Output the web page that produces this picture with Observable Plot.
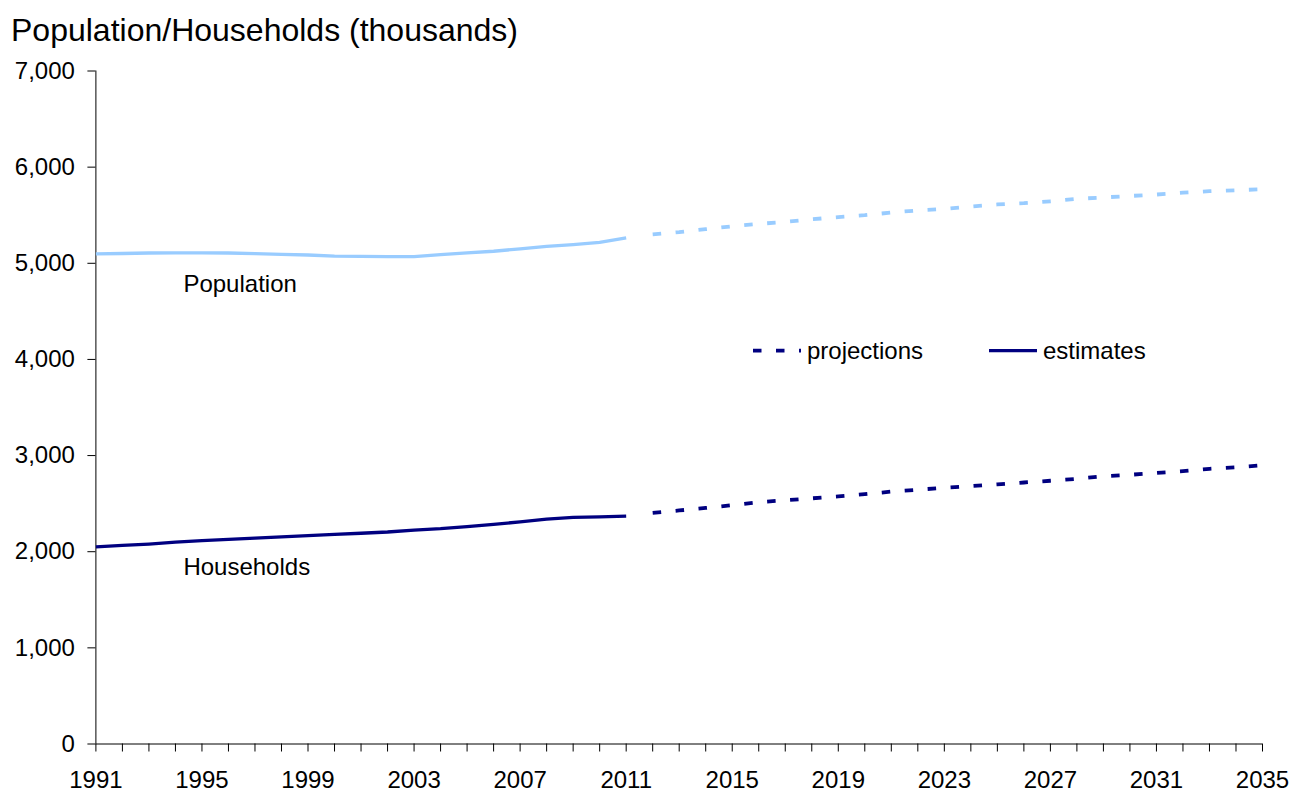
<!DOCTYPE html>
<html>
<head>
<meta charset="utf-8">
<script src="https://cdn.jsdelivr.net/npm/d3@7"></script>
<script src="https://cdn.jsdelivr.net/npm/@observablehq/plot@0.6"></script>
<style>
  body { margin: 0; background: #fff; }
  #chart { position: relative; width: 1293px; height: 792px; font-family: "Liberation Sans", Arial, sans-serif; color: #000; }
  #title { position: absolute; left: 11px; top: 14px; font-size: 32px; line-height: 1; white-space: nowrap; }
  #legend { position: absolute; left: 0; top: 0; pointer-events: none; }
  #legend text { font-family: "Liberation Sans", Arial, sans-serif; font-size: 24px; fill: #000; }
</style>
</head>
<body>
<div id="chart">
  <div id="title">Population/Households (thousands)</div>
</div>
<script>
// Mid-year estimates, 1991–2011 (thousands)
const estimateYears = [1991, 1992, 1993, 1994, 1995, 1996, 1997, 1998, 1999, 2000,
  2001, 2002, 2003, 2004, 2005, 2006, 2007, 2008, 2009, 2010, 2011];
const populationEstimates = [5098, 5102, 5107, 5108, 5108, 5107, 5100, 5092, 5086, 5075,
  5072, 5070, 5070, 5090, 5108, 5125, 5150, 5175, 5195, 5218, 5265];
const householdEstimates = [2050, 2065, 2080, 2100, 2115, 2128, 2142, 2155, 2168, 2180,
  2192, 2205, 2225, 2240, 2262, 2285, 2310, 2340, 2358, 2362, 2370];

// Projections, 2012–2035 (thousands)
const projectionYears = [2012, 2013, 2014, 2015, 2016, 2017, 2018, 2019, 2020, 2021, 2022, 2023,
  2024, 2025, 2026, 2027, 2028, 2029, 2030, 2031, 2032, 2033, 2034, 2035];
const populationProjections = [5300, 5324, 5355, 5385, 5410, 5430, 5458, 5480, 5500, 5528, 5550, 5565,
  5590, 5612, 5625, 5645, 5670, 5685, 5700, 5715, 5735, 5750, 5760, 5770];
const householdProjections = [2405, 2429, 2455, 2485, 2515, 2535, 2555, 2575, 2598, 2625, 2645, 2665,
  2682, 2700, 2720, 2738, 2758, 2785, 2800, 2820, 2838, 2862, 2878, 2900];

// Axis ticks
const yearTicks = [1991, 1992, 1993, 1994, 1995, 1996, 1997, 1998, 1999, 2000, 2001, 2002, 2003,
  2004, 2005, 2006, 2007, 2008, 2009, 2010, 2011, 2012, 2013, 2014, 2015, 2016, 2017, 2018, 2019,
  2020, 2021, 2022, 2023, 2024, 2025, 2026, 2027, 2028, 2029, 2030, 2031, 2032, 2033, 2034, 2035];
const yearLabels = [1991, 1995, 1999, 2003, 2007, 2011, 2015, 2019, 2023, 2027, 2031, 2035];
const valueTicks = [0, 1000, 2000, 3000, 4000, 5000, 6000, 7000];

// Series labels written beside the lines
const seriesLabels = ["Population", "Households"];
const seriesLabelYears = [1994.3, 1994.3];
const seriesLabelValues = [4700, 1755];

const POP_COLOR = "#99ccff";
const HH_COLOR = "#000080";
const DASH = "8.5,14.5";

const rows = (years, values) => years.map((year, i) => ({year, value: values[i]}));

const plot = Plot.plot({
  width: 1293,
  height: 792,
  marginLeft: 95.4,
  marginRight: 31,
  marginTop: 70.5,
  marginBottom: 48.5,
  style: {
    fontFamily: '"Liberation Sans", Arial, sans-serif',
    fontSize: "24px",
    color: "#000",
    background: "transparent",
    overflow: "visible"
  },
  x: {domain: [1991, 2035], label: null},
  y: {domain: [0, 7000], label: null},
  marks: [
    Plot.axisY({
      ticks: valueTicks,
      tickFormat: d3.format(","),
      tickSize: 8,
      tickPadding: 13,
      label: null,
      stroke: "#000",
      fill: "#000"
    }),
    Plot.axisX({
      ticks: yearTicks,
      tickFormat: d => yearLabels.includes(d) ? String(d) : "",
      tickSize: 8,
      tickPadding: 18.5,
      label: null,
      stroke: "#000",
      fill: "#000"
    }),
    Plot.ruleY([0], {stroke: "#000", strokeWidth: 1}),
    Plot.ruleX([1991], {stroke: "#000", strokeWidth: 1}),

    Plot.line(rows(estimateYears, populationEstimates), {
      x: "year", y: "value", stroke: POP_COLOR, strokeWidth: 3.3, strokeLinecap: "butt"
    }),
    Plot.line(rows(projectionYears, populationProjections), {
      x: "year", y: "value", stroke: POP_COLOR, strokeWidth: 3.8,
      strokeDasharray: DASH, strokeLinecap: "butt"
    }),
    Plot.line(rows(estimateYears, householdEstimates), {
      x: "year", y: "value", stroke: HH_COLOR, strokeWidth: 3.3, strokeLinecap: "butt"
    }),
    Plot.line(rows(projectionYears, householdProjections), {
      x: "year", y: "value", stroke: HH_COLOR, strokeWidth: 3.8,
      strokeDasharray: DASH, strokeLinecap: "butt"
    }),

    Plot.text(seriesLabels.map((label, i) => ({label, year: seriesLabelYears[i], value: seriesLabelValues[i]})), {
      x: "year", y: "value", text: "label",
      textAnchor: "start", lineAnchor: "bottom",
      fontSize: 24, fill: "#000"
    })
  ]
});

const chart = document.getElementById("chart");
chart.appendChild(plot);

// Line-style key: dashed = projections, solid = estimates
const key = d3.select(chart).append("svg")
  .attr("id", "legend")
  .attr("width", 1293)
  .attr("height", 792);

const keyItems = [
  {label: "projections", dash: DASH, x: 753},
  {label: "estimates", dash: null, x: 989}
];
const keyY = 350.7;
keyItems.forEach(item => {
  key.append("line")
    .attr("x1", item.x).attr("x2", item.x + 48)
    .attr("y1", keyY).attr("y2", keyY)
    .attr("stroke", HH_COLOR)
    .attr("stroke-width", item.dash ? 3.8 : 3.3)
    .attr("stroke-dasharray", item.dash)
    .attr("stroke-linecap", "butt");
  key.append("text")
    .attr("x", item.x + 54)
    .attr("y", keyY + 8)
    .text(item.label);
});
</script>
</body>
</html>
